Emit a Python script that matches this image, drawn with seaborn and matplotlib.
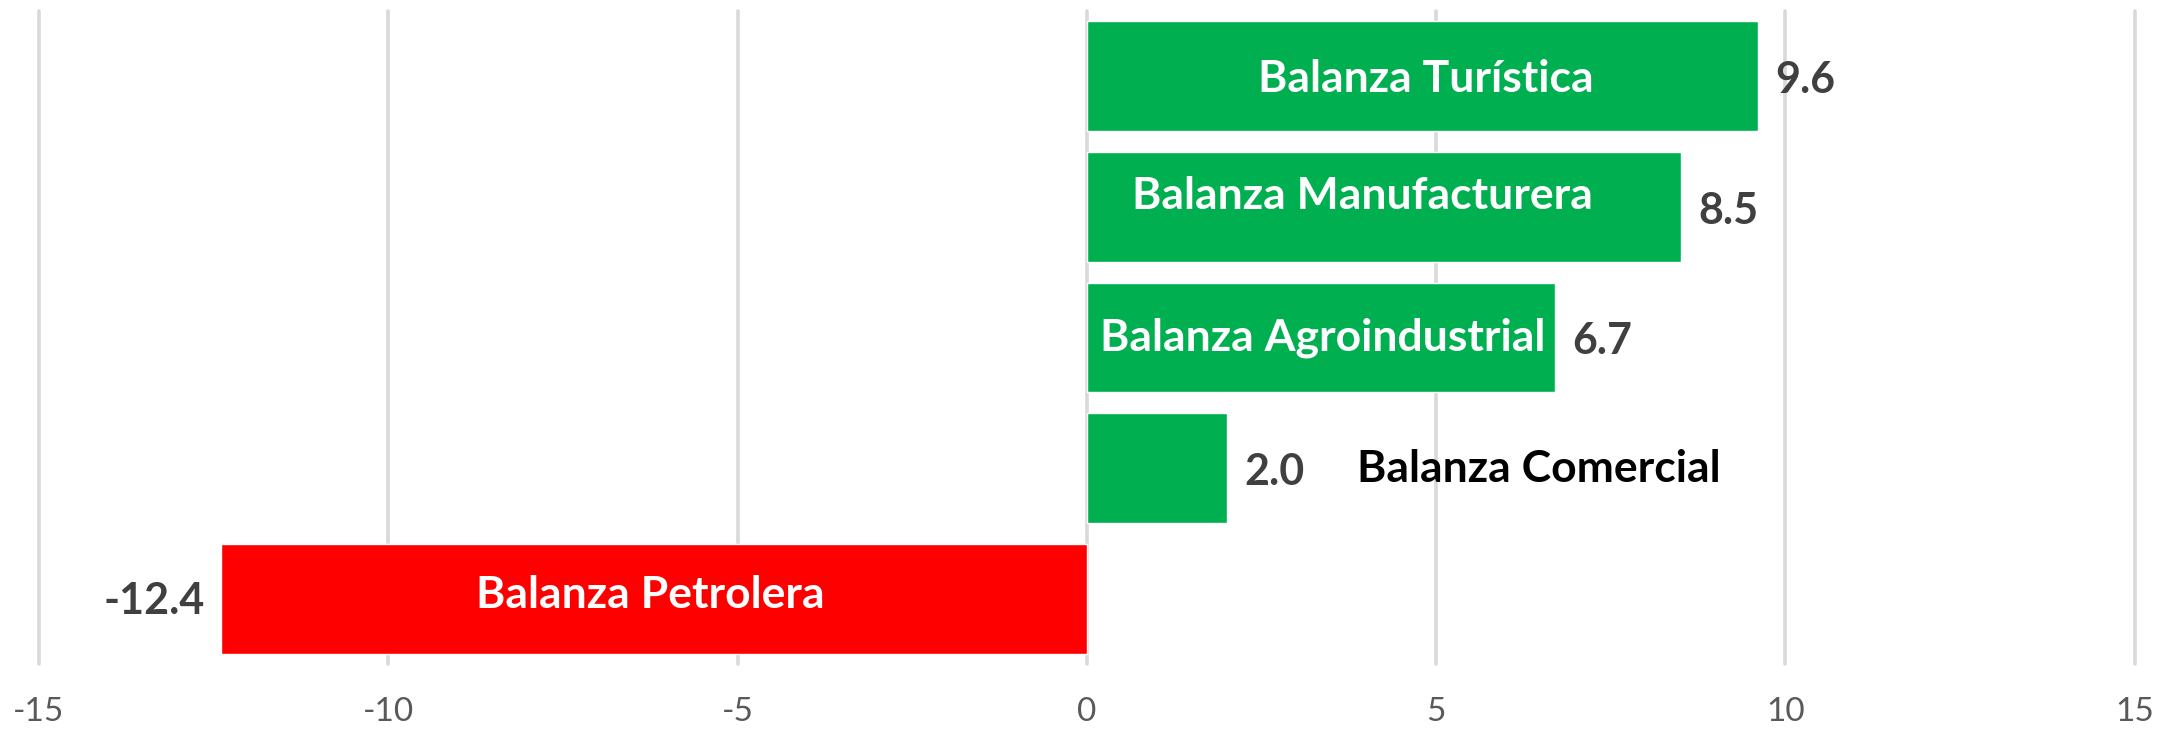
import matplotlib
matplotlib.use("Agg")
import matplotlib.pyplot as plt
import seaborn as sns

# data
categorias = ["Balanza Turística", "Balanza Manufacturera", "Balanza Agroindustrial",
              "Balanza Comercial", "Balanza Petrolera"]
valores = [9.6, 8.5, 6.7, 2.0, -12.4]
colores = ["#00B050", "#00B050", "#00B050", "#00B050", "#FF0000"]
ticks = [-15, -10, -5, 0, 5, 10, 15]

# where the category names sit (Excel labels were dragged by hand)
etiqueta_x = [4.85, 3.95, 3.37, 6.47, -6.25]
etiqueta_dy = [0.02, -0.08, 0.0, 0.01, -0.03]
color_etiqueta = ["white", "white", "white", "black", "white"]

sns.set_style("white")
plt.rcParams["font.family"] = ["Lato", "DejaVu Sans"]

fig = plt.figure(figsize=(21.78, 7.3), dpi=100)
ax = fig.add_axes([0.01786, 0.0904, 0.9623, 0.8945])

sns.barplot(x=valores, y=categorias, hue=categorias, palette=colores,
            legend=False, width=0.84, orient="h", saturation=1, ax=ax)

ax.set_xlim(-15, 15)
ax.set_ylim(4.5, -0.5)
ax.set_xticks(ticks)
ax.set_xticklabels([str(t) for t in ticks])
ax.set_yticks([])
ax.set_xlabel("")
ax.set_ylabel("")
ax.tick_params(axis="x", length=0, pad=24, labelsize=24, labelcolor="#595959")
for s in ax.spines.values():
    s.set_visible(False)

ax.set_axisbelow(True)
ax.xaxis.grid(True, color="#D9D9D9", linewidth=2.6)
for gl in ax.get_xgridlines():
    gl.set_clip_on(False)

# value labels
for i, v in enumerate(valores):
    if v >= 0:
        ax.text(v + 0.25, i + 0.03, f"{v:.1f}", ha="left", va="center",
                fontsize=31, fontweight="bold", color="#404040")
    else:
        ax.text(v - 0.22, i + 0.02, f"{v:.1f}", ha="right", va="center",
                fontsize=31, fontweight="bold", color="#404040")

# category names
for i, nombre in enumerate(categorias):
    ax.text(etiqueta_x[i], i + etiqueta_dy[i], nombre, ha="center", va="center",
            fontsize=32, fontweight="bold", color=color_etiqueta[i])

fig.savefig("out.png", dpi=100)
